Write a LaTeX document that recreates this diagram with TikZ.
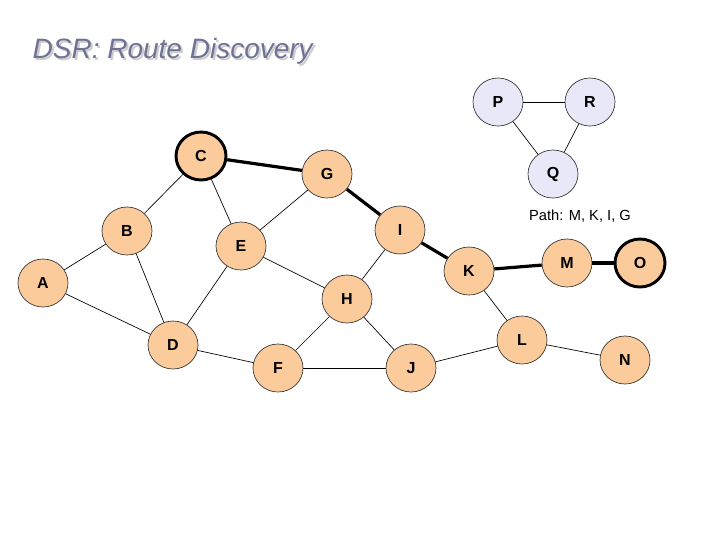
\documentclass[tikz,border=0pt]{standalone}
\usepackage{fontspec}
\setmainfont{Liberation Sans}
\usetikzlibrary{shapes.geometric}
\begin{document}
\begin{tikzpicture}[x=0.75pt,y=-0.75pt,
  nd/.style={ellipse,minimum width=37.5pt,minimum height=36pt,inner sep=0pt,draw=black!80,line width=0.5pt,fill=peach,font=\fontsize{12}{12}\bfseries\selectfont},
  hi/.style={nd,line width=2.2pt,draw=black},
  lv/.style={nd,fill=lav},
  ed/.style={line width=0.5pt},
  th/.style={line width=2.4pt}]
\definecolor{peach}{HTML}{FBCB9C}
\definecolor{lav}{HTML}{E8E8F8}
\definecolor{ttl}{HTML}{6E7396}
\useasboundingbox (0,0) rectangle (720,540);
\node (shadow) [text=gray!40,font=\fontsize{21}{21}\itshape\selectfont,anchor=west] at (30,53) {DSR: Route Discovery};
\node (title) [text=ttl,font=\fontsize{21}{21}\itshape\selectfont,anchor=west] at (28,51) {DSR: Route Discovery};
\node[lv] (P) at (498,102) {P};
\node[lv] (R) at (590,102) {R};
\node[lv] (Q) at (553,174) {Q};
\node[hi] (C) at (201,156) {C};
\node[nd] (G) at (327,174) {G};
\node[nd] (I) at (400,230) {I};
\node[nd] (B) at (127,231) {B};
\node[nd] (E) at (241,246) {E};
\node[nd] (A) at (43,283) {A};
\node[nd] (K) at (469,271) {K};
\node[nd] (M) at (567,263) {M};
\node[hi] (O) at (640,263) {O};
\node[nd] (H) at (347,299) {H};
\node[nd] (D) at (173,345) {D};
\node[nd] (L) at (522,340) {L};
\node[nd] (F) at (278,368) {F};
\node[nd] (J) at (411,368) {J};
\node[nd] (N) at (625,360) {N};
\node (path) [font=\fontsize{11}{11}\selectfont] at (580,216) {Path: M, K, I, G};
\foreach \a/\b in {P/R,P/Q,R/Q,A/B,A/D,B/D,B/C,C/E,E/G,E/D,E/H,H/I,H/F,H/J,D/F,F/J,J/L,K/L,L/N}
  \draw[ed] (\a) -- (\b);
\foreach \a/\b in {C/G,G/I,I/K,K/M,M/O}
  \draw[th] (\a) -- (\b);
\end{tikzpicture}
\end{document}
